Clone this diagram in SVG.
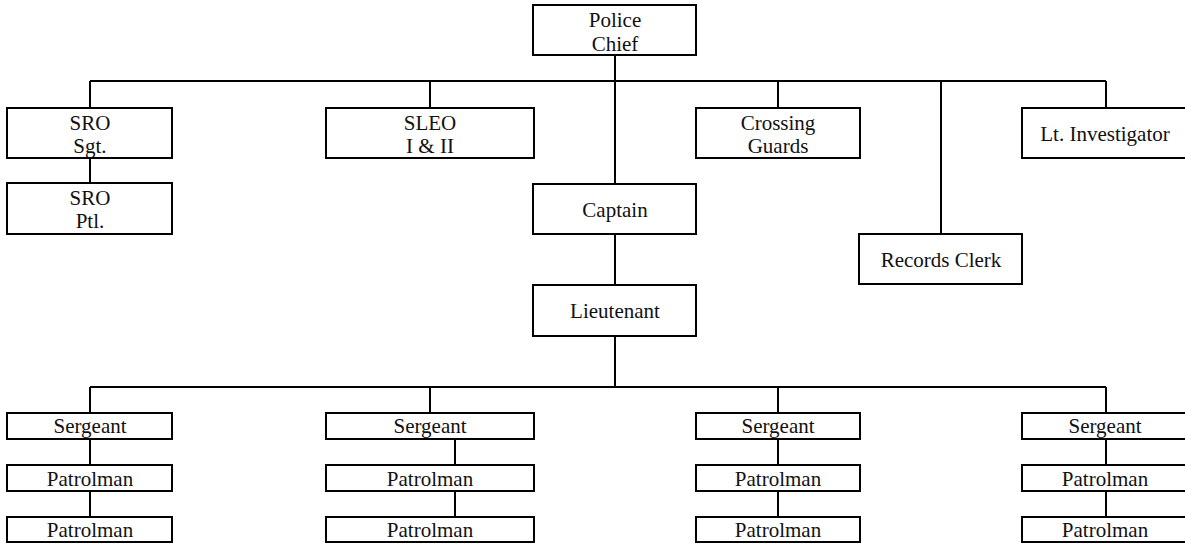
<svg xmlns="http://www.w3.org/2000/svg" width="1185" height="544" viewBox="0 0 1185 544">
<style>
rect{fill:#fff;stroke:#000;stroke-width:2}
text{font-family:'Liberation Serif',Tinos,'Times New Roman',Times,serif;font-size:21px;fill:#111;text-anchor:middle}
#connectors path{fill:none;stroke:#000;stroke-width:2}
</style>
<rect x="0" y="0" width="1185" height="544" style="stroke:none"/>
<g id="connectors">
<path d="M615 55V81M90 81H1106M90 81V108M430 81V108M778 81V108M1106 81V108M941 81V234M615 81V184"/>
<path d="M90 158V183M615 234V285M615 336V387M90 387H1106M90 387V413M430 387V413M778 387V413M1106 387V413"/>
<path d="M90 439V465M90 491V517M455 439V465M455 491V517M778 439V465M778 491V517M1106 439V465M1106 491V517"/>
</g>
<g id="police-chief"><rect x="533" y="5" width="163" height="50"/><text x="615" y="27">Police</text><text x="615" y="51">Chief</text></g>
<g id="sro-sgt"><rect x="7" y="108" width="165" height="50"/><text x="90" y="130">SRO</text><text x="90" y="153">Sgt.</text></g>
<g id="sro-ptl"><rect x="7" y="183" width="165" height="51"/><text x="90" y="205">SRO</text><text x="90" y="228">Ptl.</text></g>
<g id="sleo"><rect x="326" y="108" width="208" height="50"/><text x="430" y="130">SLEO</text><text x="430" y="153">I &amp; II</text></g>
<g id="crossing-guards"><rect x="696" y="108" width="164" height="50"/><text x="778" y="130">Crossing</text><text x="778" y="153">Guards</text></g>
<g id="lt-investigator"><rect x="1022" y="108" width="170" height="50"/><text x="1105" y="141">Lt. Investigator</text></g>
<g id="captain"><rect x="533" y="184" width="163" height="50"/><text x="615" y="217">Captain</text></g>
<g id="records-clerk"><rect x="859" y="234" width="163" height="50"/><text x="941" y="267">Records Clerk</text></g>
<g id="lieutenant"><rect x="533" y="285" width="163" height="51"/><text x="615" y="318">Lieutenant</text></g>
<g id="sergeant-1"><rect x="7" y="413" width="165" height="26"/><text x="90" y="433">Sergeant</text></g>
<g id="patrolman-1a"><rect x="7" y="465" width="165" height="26"/><text x="90" y="486">Patrolman</text></g>
<g id="patrolman-1b"><rect x="7" y="517" width="165" height="25"/><text x="90" y="537">Patrolman</text></g>
<g id="sergeant-2"><rect x="326" y="413" width="208" height="26"/><text x="430" y="433">Sergeant</text></g>
<g id="patrolman-2a"><rect x="326" y="465" width="208" height="26"/><text x="430" y="486">Patrolman</text></g>
<g id="patrolman-2b"><rect x="326" y="517" width="208" height="25"/><text x="430" y="537">Patrolman</text></g>
<g id="sergeant-3"><rect x="696" y="413" width="164" height="26"/><text x="778" y="433">Sergeant</text></g>
<g id="patrolman-3a"><rect x="696" y="465" width="164" height="26"/><text x="778" y="486">Patrolman</text></g>
<g id="patrolman-3b"><rect x="696" y="517" width="164" height="25"/><text x="778" y="537">Patrolman</text></g>
<g id="sergeant-4"><rect x="1022" y="413" width="170" height="26"/><text x="1105" y="433">Sergeant</text></g>
<g id="patrolman-4a"><rect x="1022" y="465" width="170" height="26"/><text x="1105" y="486">Patrolman</text></g>
<g id="patrolman-4b"><rect x="1022" y="517" width="170" height="25"/><text x="1105" y="537">Patrolman</text></g>
</svg>
